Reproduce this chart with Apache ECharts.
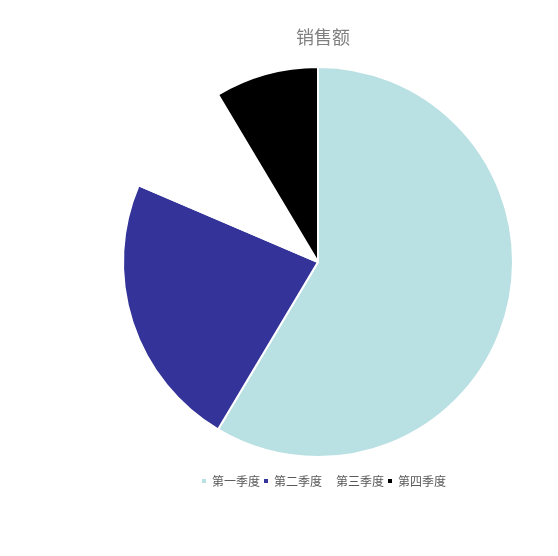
<!DOCTYPE html>
<html><head><meta charset="utf-8">
<script src="https://cdn.jsdelivr.net/npm/echarts@6/dist/echarts.min.js"></script>
<style>html,body{margin:0;padding:0;background:#fff}#c{width:558px;height:556px}</style>
</head><body><div id="c"></div>
<script>
const categories = ['第一季度','第二季度','第三季度','第四季度'];
const values = [8.2, 3.2, 1.4, 1.2];
const colors = ['#B9E0E3','#333399','#FFFFFF','#000000'];
const chart = echarts.init(document.getElementById('c'), null, {renderer:'canvas'});
chart.setOption({
  animation:false,
  title:{text:'销售额', left:318, top:23, textAlign:'center',
    textStyle:{fontFamily:'Noto Sans CJK SC', fontSize:18, fontWeight:'normal', color:'#7f7f7f'}},
  legend:{top:470, left:195, itemWidth:6, itemHeight:6, itemGap:2, icon:'rect',
    textStyle:{fontFamily:'Noto Sans CJK SC', fontSize:12, color:'#595959'},
    data:categories},
  series:[{type:'pie', center:[318,262], radius:[0,195], startAngle:90, clockwise:true,
    label:{show:false}, labelLine:{show:false},
    itemStyle:{borderColor:'#fff', borderWidth:2},
    data:categories.map((n,i)=>({name:n, value:values[i], itemStyle:{color:colors[i]}}))}]
});
</script></body></html>
